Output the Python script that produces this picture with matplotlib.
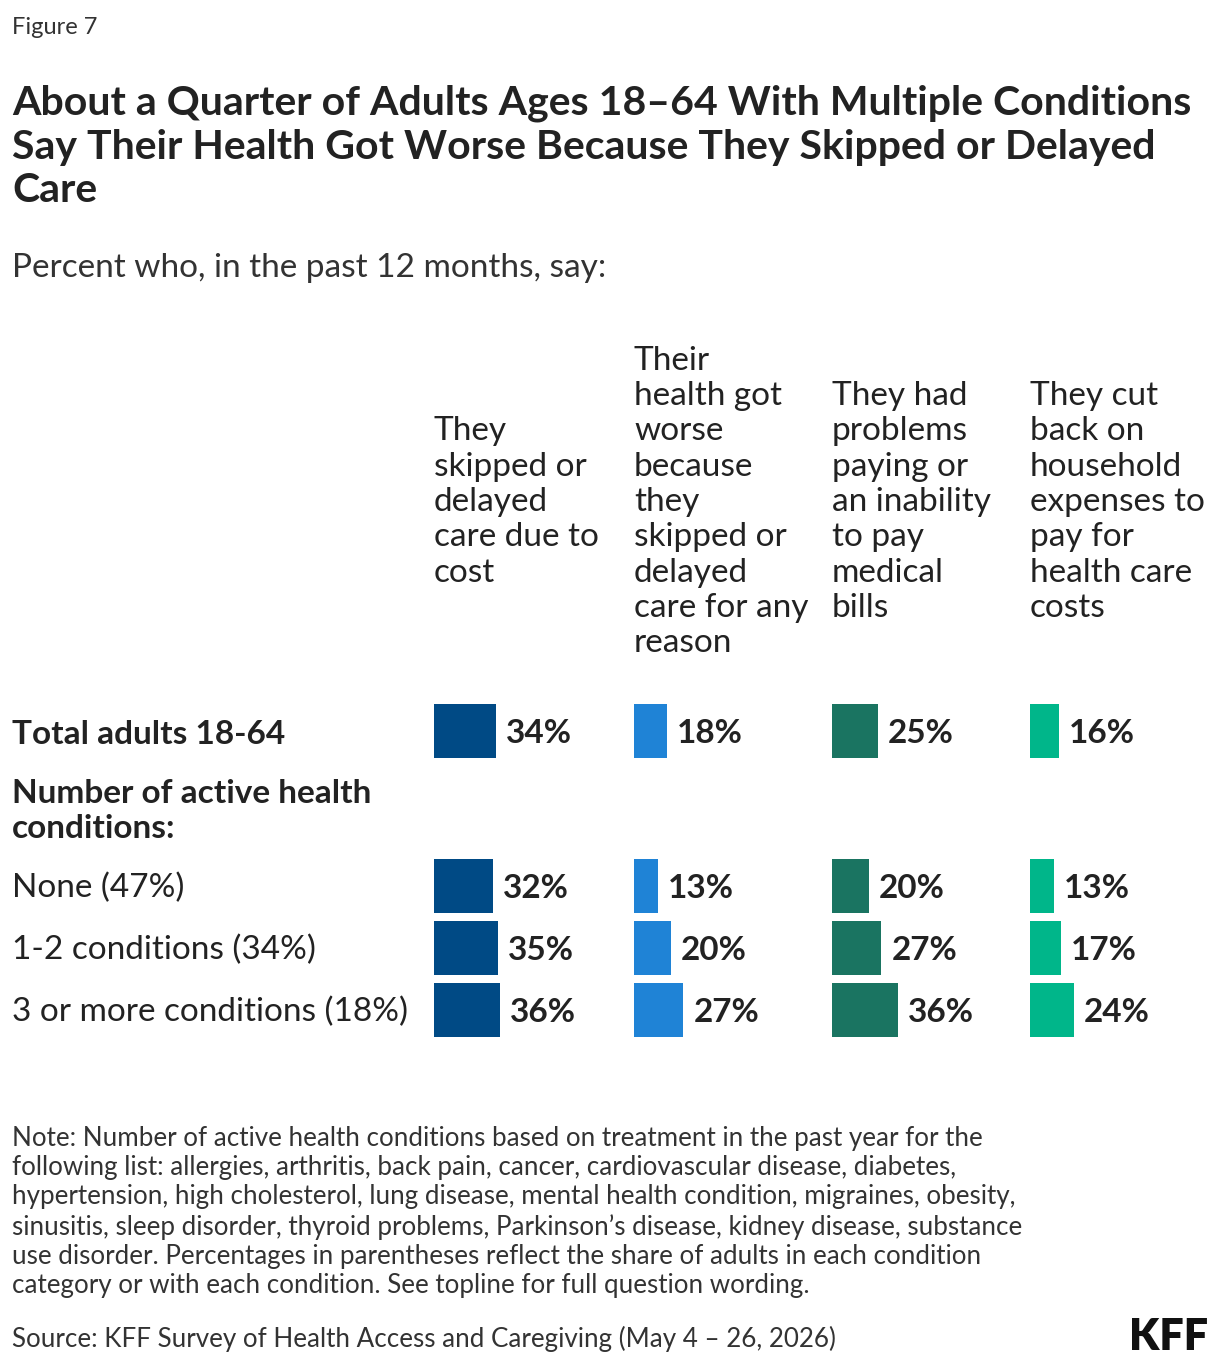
import matplotlib
matplotlib.use("Agg")
import matplotlib.pyplot as plt

W, H = 1220, 1366
rows = ["Total adults 18-64", "None (47%)", "1-2 conditions (34%)", "3 or more conditions (18%)"]
row_pos = [0, 2.5, 3.5, 4.5]
columns = ["They\nskipped or\ndelayed\ncare due to\ncost",
           "Their\nhealth got\nworse\nbecause\nthey\nskipped or\ndelayed\ncare for any\nreason",
           "They had\nproblems\npaying or\nan inability\nto pay\nmedical\nbills",
           "They cut\nback on\nhousehold\nexpenses to\npay for\nhealth care\ncosts"]
values = [[34, 32, 35, 36], [18, 13, 20, 27], [25, 20, 27, 36], [16, 13, 17, 24]]
colors = ["#004A85", "#1F83D6", "#1A7461", "#00B68A"]
col_x = [434, 634, 832, 1030]

plt.rcParams['font.family'] = ['Lato', 'DejaVu Sans']
fig = plt.figure(figsize=(W/100, H/100), dpi=100)

def T(x, y, s, **kw):
    fig.text(x/W, 1 - y/H, s, **kw)

T(12, 28, "Figure 7", fontsize=17, color="#333333", va="center")
T(12, 147, "About a Quarter of Adults Ages 18–64 With Multiple Conditions\nSay Their Health Got Worse Because They Skipped or Delayed\nCare",
  fontsize=29.5, fontweight="bold", color="#222222", va="center", linespacing=1.22)
T(12, 268, "Percent who, in the past 12 months, say:", fontsize=24, color="#333333", va="center")

unit = 62.0
top_px = 731 - 0.5*unit
bot_px = 731 + 5.0*unit
for ci, (cx, lab) in enumerate(zip(col_x, columns)):
    T(cx, 502, lab, fontsize=24, color="#222222", va="center", linespacing=1.22)
    ax = fig.add_axes([cx/W, 1 - bot_px/H, 183/W, (bot_px-top_px)/H])
    ax.set_xlim(0, 100)
    ax.set_ylim(5.0, -0.5)
    ax.axis("off")
    ax.barh(row_pos, values[ci], height=0.86, color=colors[ci])
    for p, v in zip(row_pos, values[ci]):
        ax.text(v + 5.5, p + 0.04, f"{v}%", va="center", ha="left", fontsize=24,
                fontweight="bold", color="#222222")

T(12, 735, rows[0], fontsize=24, fontweight="bold", color="#222222", va="center")
T(12, 811, "Number of active health\nconditions:", fontsize=24, fontweight="bold",
  color="#222222", va="center", linespacing=1.22)
for r, p in zip(rows[1:], row_pos[1:]):
    T(12, 733 + p*unit, r, fontsize=24, color="#222222", va="center")

note = ("Note: Number of active health conditions based on treatment in the past year for the\n"
        "following list: allergies, arthritis, back pain, cancer, cardiovascular disease, diabetes,\n"
        "hypertension, high cholesterol, lung disease, mental health condition, migraines, obesity,\n"
        "sinusitis, sleep disorder, thyroid problems, Parkinson’s disease, kidney disease, substance\n"
        "use disorder. Percentages in parentheses reflect the share of adults in each condition\n"
        "category or with each condition. See topline for full question wording.")
T(12, 1212, note, fontsize=18.7, color="#333333", va="center", linespacing=1.22)
T(12, 1339, "Source: KFF Survey of Health Access and Caregiving (May 4 – 26, 2026)",
  fontsize=18.7, color="#333333", va="center")
T(1208, 1337, "KFF", fontsize=31, fontweight="heavy", color="#111111", va="center", ha="right")

fig.savefig("out.png", dpi=100)
